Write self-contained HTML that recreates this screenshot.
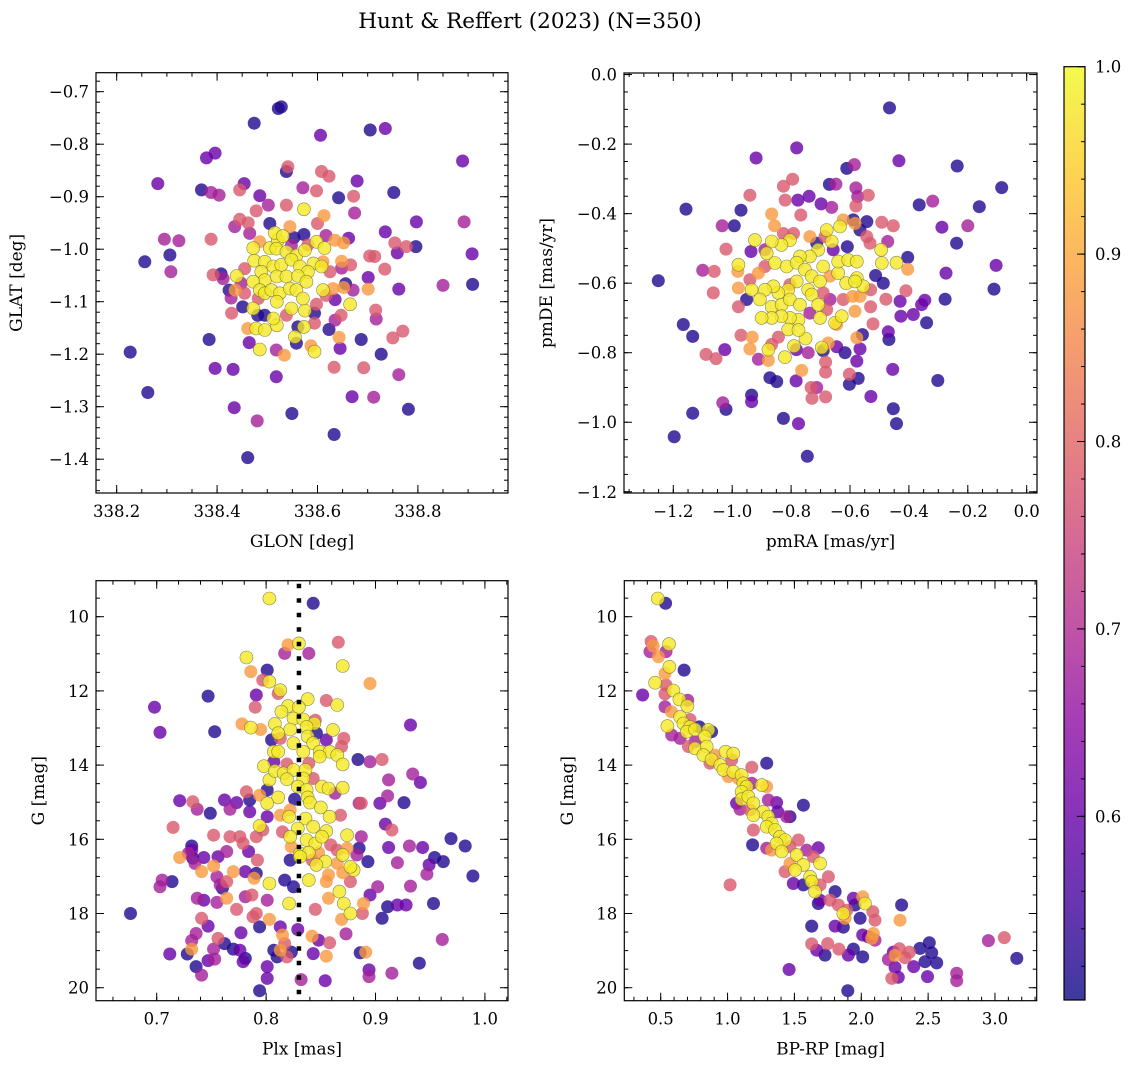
<!DOCTYPE html>
<html><head><meta charset="utf-8"><style>
html,body{margin:0;padding:0;background:#fff;}
svg{display:block;font-family:"DejaVu Serif","Liberation Serif",serif;}
</style></head><body>
<svg id="fig" width="1136" height="1067" viewBox="0 0 1136 1067" xmlns="http://www.w3.org/2000/svg">
<defs>
<linearGradient id="plasmaGrad" x1="0" y1="1" x2="0" y2="0">
<stop offset="0" stop-color="#0d0887"/><stop offset="0.1" stop-color="#41049d"/><stop offset="0.2" stop-color="#6a00a8"/><stop offset="0.3" stop-color="#8f0da4"/><stop offset="0.4" stop-color="#b12a90"/><stop offset="0.5" stop-color="#cc4778"/><stop offset="0.6" stop-color="#e16462"/><stop offset="0.7" stop-color="#f2844b"/><stop offset="0.8" stop-color="#fca636"/><stop offset="0.9" stop-color="#fcce25"/><stop offset="1" stop-color="#f0f921"/>
</linearGradient>
</defs>
<text x="530" y="28" text-anchor="middle" font-size="21.5">Hunt &amp; Reffert (2023) (N=350)</text>
</svg>
<script>
// ---------- Panel 1: GLON vs GLAT ----------
const glon = [338.522,338.528,338.474,338.606,338.705,338.735,338.379,338.396,338.889,338.282,
338.369,338.388,338.404,338.454,338.445,338.538,338.541,338.571,338.598,338.608,
338.623,338.679,338.642,338.672,338.674,338.752,338.485,338.502,338.538,338.573,
338.478,338.445,338.462,338.435,338.465,338.505,338.545,338.600,338.613,338.388,
338.295,338.324,338.306,338.308,338.256,338.227,338.262,338.797,338.892,338.735,
338.796,338.777,338.754,338.759,338.908,338.909,338.850,338.762,338.704,338.714,
338.734,338.701,338.701,338.716,338.717,338.770,338.750,338.727,338.687,338.692,
338.762,338.712,338.669,338.781,338.633,338.549,338.518,338.480,338.434,338.461,
338.432,338.396,338.384,338.464,338.485,338.518,338.534,338.558,338.594,338.587,
338.633,338.645,338.623,338.643,338.635,338.647,338.665,338.635,338.652,338.671,
338.656,338.648,338.666,338.648,338.662,338.635,338.652,338.617,338.598,338.614,
338.592,338.608,338.625,338.611,338.617,338.598,338.594,338.594,338.575,338.573,
338.555,338.561,338.548,338.538,338.519,338.512,338.495,338.481,338.478,338.461,
338.495,338.472,338.451,338.428,338.429,338.436,338.424,338.392,338.412,338.408,
338.439,338.455,338.448,338.474,338.472,338.485,338.505,338.521,338.515,338.531,
338.553,338.573,338.548,338.518,338.538,338.558,338.575,338.495,338.512,338.528,
338.548,338.565,338.581,338.488,338.495,338.519,338.538,338.561,338.578,338.472,
338.485,338.495,338.508,338.525,338.545,338.558,338.571,338.519,338.482,338.455,
338.611,338.631,338.581];
const glat = [-0.732,-0.729,-0.760,-0.783,-0.773,-0.770,-0.826,-0.817,-0.832,-0.875,
-0.887,-0.892,-0.897,-0.875,-0.887,-0.852,-0.843,-0.883,-0.889,-0.852,
-0.861,-0.870,-0.902,-0.899,-0.931,-0.892,-0.898,-0.916,-0.916,-0.924,
-0.927,-0.943,-0.950,-0.957,-0.970,-0.951,-0.957,-0.951,-0.936,-0.981,
-0.981,-0.984,-1.011,-1.043,-1.024,-1.196,-1.273,-0.948,-0.948,-0.967,
-0.995,-0.995,-0.988,-1.007,-1.009,-1.067,-1.069,-1.076,-1.013,-1.014,
-1.038,-1.054,-1.076,-1.116,-1.133,-1.156,-1.169,-1.200,-1.172,-1.226,
-1.239,-1.282,-1.281,-1.305,-1.353,-1.313,-1.243,-1.327,-1.302,-1.397,
-1.229,-1.227,-1.172,-1.178,-1.191,-1.192,-1.202,-1.179,-1.195,-1.184,
-1.225,-1.189,-1.153,-1.168,-1.135,-1.126,-1.105,-1.096,-1.073,-1.078,
-1.066,-1.036,-1.030,-1.023,-0.979,-0.983,-0.988,-0.974,-0.986,-0.998,
-1.027,-1.033,-1.043,-1.078,-1.088,-1.105,-1.141,-1.122,-1.117,-1.148,
-1.167,-1.148,-1.113,-1.126,-1.145,-1.132,-1.126,-1.126,-1.151,-1.151,
-1.154,-1.113,-1.110,-1.093,-1.122,-1.078,-1.078,-1.049,-1.056,-1.047,
-1.051,-1.037,-1.065,-1.022,-0.998,-0.986,-0.998,-0.983,-0.969,-0.975,
-0.978,-0.972,-0.993,-0.999,-1.005,-1.012,-1.002,-1.024,-1.033,-1.030,
-1.020,-1.033,-1.043,-1.043,-1.059,-1.052,-1.052,-1.051,-1.062,-1.062,
-1.078,-1.084,-1.078,-1.084,-1.075,-1.078,-1.094,-1.100,-1.094,-1.084,
-1.024,-1.075,-0.992];
const prob1 = [.52,.52,.52,.60,.52,.60,.60,.60,.60,.60,
.52,.68,.68,.60,.78,.52,.78,.68,.78,.78,
.78,.60,.52,.78,.68,.52,.60,.68,.78,.98,
.78,.78,.78,.68,.68,.52,.88,.78,.88,.78,
.68,.68,.52,.68,.52,.52,.52,.60,.68,.60,
.52,.78,.78,.60,.60,.52,.68,.60,.78,.78,
.78,.60,.88,.78,.68,.78,.78,.52,.52,.78,
.68,.68,.60,.52,.52,.52,.60,.68,.60,.52,
.60,.60,.52,.60,.98,.68,.88,.52,.98,.88,
.78,.60,.52,.88,.68,.78,.98,.60,.88,.68,
.52,.68,.78,.88,.60,.88,.88,.68,.98,.98,
.98,.98,.78,.98,.78,.78,.78,.52,.98,.98,
.98,.52,.98,.78,.98,.98,.52,.52,.98,.88,
.98,.98,.52,.68,.78,.88,.52,.78,.68,.52,
.98,.78,.68,.98,.98,.88,.98,.98,.98,.98,
.52,.52,.68,.98,.98,.98,.98,.98,.98,.98,
.98,.98,.98,.98,.98,.98,.98,.98,.98,.98,
.98,.98,.98,.98,.98,.98,.98,.98,.78,.78,
.88,.88,.78];

// ---------- Panel 2: pmRA vs pmDE ----------
const pmra = [-0.466,-0.781,-0.919,-0.434,-0.611,-0.585,-0.236,-0.085,-0.795,-0.826,
-0.670,-0.648,-0.580,-0.538,-0.574,-0.580,-0.940,-1.157,-0.970,-0.820,
-0.777,-0.739,-0.698,-0.662,-0.767,-0.866,-0.856,-1.034,-0.993,-1.021,
-0.936,-1.100,-1.061,-1.251,-1.064,-0.979,-1.166,-1.134,-1.089,-1.055,
-1.025,-1.134,-1.197,-1.021,-1.032,-0.934,-0.934,-0.872,-0.849,-0.826,
-0.775,-0.745,-0.783,-0.732,-0.729,-0.683,-0.713,-0.683,-0.683,-0.764,
-0.602,-0.602,-0.572,-0.529,-0.453,-0.442,-0.455,-0.302,-0.468,-0.470,
-0.385,-0.340,-0.277,-0.357,-0.346,-0.111,-0.104,-0.274,-0.238,-0.200,
-0.161,-0.288,-0.365,-0.319,-0.453,-0.492,-0.472,-0.404,-0.404,-0.442,
-0.492,-0.494,-0.513,-0.487,-0.410,-0.430,-0.427,-0.478,-0.530,-0.530,
-0.522,-0.558,-0.566,-0.577,-0.577,-0.617,-0.645,-0.691,-0.674,-0.696,
-0.751,-0.742,-0.790,-0.821,-0.877,-0.877,-0.911,-0.940,-0.932,-0.970,
-0.843,-0.866,-0.782,-0.645,-0.651,-0.628,-0.583,-0.566,-0.591,-0.613,
-0.640,-0.640,-0.606,-0.577,-0.577,-0.555,-0.583,-0.532,-0.543,-0.566,
-0.589,-0.543,-0.583,-0.623,-0.634,-0.662,-0.679,-0.708,-0.736,-0.770,
-0.804,-0.833,-0.866,-0.923,-0.883,-0.855,-0.815,-0.781,-0.753,-0.730,
-0.691,-0.668,-0.702,-0.742,-0.781,-0.810,-0.843,-0.860,-0.889,-0.934,
-0.906,-0.866,-0.832,-0.804,-0.770,-0.730,-0.708,-0.702,-0.775,-0.804,
-0.833,-0.866,-0.900,-0.810,-0.775,-0.979,-0.981,-0.979,-0.940,-0.911,
-0.889,-0.889,-0.826,-0.792,-0.736,-0.713,-0.685,-0.657,-0.609,-0.691,
-0.668,-0.623,-0.679,-0.736,-0.804,-0.951];
const pmde = [-0.096,-0.211,-0.240,-0.248,-0.270,-0.259,-0.263,-0.325,-0.301,-0.321,
-0.316,-0.315,-0.326,-0.347,-0.351,-0.378,-0.347,-0.387,-0.390,-0.361,
-0.361,-0.350,-0.372,-0.382,-0.404,-0.401,-0.435,-0.435,-0.435,-0.502,
-0.509,-0.563,-0.566,-0.593,-0.628,-0.668,-0.719,-0.753,-0.805,-0.817,
-0.791,-0.974,-1.042,-0.963,-0.944,-0.922,-0.941,-0.872,-0.883,-0.989,
-1.004,-1.098,-0.881,-0.900,-0.931,-0.927,-0.900,-0.856,-0.827,-0.851,
-0.891,-0.862,-0.874,-0.926,-0.961,-1.004,-0.848,-0.880,-0.762,-0.740,
-0.690,-0.714,-0.646,-0.662,-0.649,-0.617,-0.549,-0.571,-0.485,-0.435,
-0.380,-0.439,-0.375,-0.364,-0.435,-0.425,-0.480,-0.526,-0.560,-0.541,
-0.542,-0.504,-0.578,-0.600,-0.622,-0.652,-0.695,-0.646,-0.619,-0.668,
-0.717,-0.748,-0.789,-0.824,-0.757,-0.800,-0.783,-0.794,-0.772,-0.785,
-0.759,-0.800,-0.781,-0.813,-0.822,-0.791,-0.819,-0.789,-0.755,-0.750,
-0.755,-0.776,-0.791,-0.719,-0.714,-0.695,-0.681,-0.638,-0.638,-0.600,
-0.571,-0.538,-0.533,-0.538,-0.585,-0.609,-0.595,-0.485,-0.466,-0.447,
-0.418,-0.423,-0.428,-0.418,-0.437,-0.480,-0.447,-0.504,-0.523,-0.523,
-0.476,-0.490,-0.480,-0.476,-0.514,-0.542,-0.552,-0.541,-0.561,-0.580,
-0.552,-0.580,-0.595,-0.619,-0.595,-0.619,-0.628,-0.609,-0.619,-0.619,
-0.647,-0.668,-0.662,-0.647,-0.662,-0.633,-0.662,-0.700,-0.705,-0.700,
-0.695,-0.700,-0.700,-0.733,-0.735,-0.547,-0.566,-0.614,-0.590,-0.571,
-0.552,-0.504,-0.457,-0.457,-0.466,-0.485,-0.466,-0.504,-0.495,-0.628,
-0.647,-0.647,-0.676,-0.686,-0.604,-0.647];
const prob2 = [.52,.60,.60,.60,.52,.68,.52,.52,.78,.78,
.52,.68,.68,.78,.68,.78,.78,.52,.52,.78,
.60,.60,.60,.68,.78,.88,.88,.68,.52,.78,
.60,.68,.78,.52,.78,.78,.52,.52,.78,.78,
.60,.52,.52,.52,.68,.52,.60,.52,.52,.52,
.60,.52,.60,.78,.78,.78,.68,.78,.78,.88,
.52,.78,.52,.60,.52,.52,.60,.52,.52,.60,
.60,.52,.52,.60,.60,.52,.60,.60,.52,.68,
.52,.60,.52,.68,.78,.78,.68,.52,.88,.98,
.98,.98,.52,.52,.78,.60,.60,.78,.78,.78,
.78,.52,.60,.60,.88,.52,.60,.52,.88,.98,
.98,.68,.98,.98,.88,.98,.68,.88,.88,.78,
.78,.78,.60,.88,.98,.98,.88,.88,.88,.98,
.98,.98,.98,.98,.98,.98,.98,.78,.78,.52,
.52,.52,.88,.88,.98,.98,.98,.98,.98,.98,
.98,.98,.98,.98,.98,.98,.98,.98,.98,.98,
.98,.88,.98,.98,.98,.98,.98,.98,.98,.98,
.98,.98,.98,.98,.98,.98,.98,.98,.98,.98,
.98,.98,.98,.98,.98,.98,.88,.88,.78,.88,
.78,.68,.78,.78,.88,.52,.78,.60,.52,.78,
.68,.78,.78,.68,.78,.52];

// ---------- Panel 3: Plx vs G ----------
const plx = [0.803,0.843,0.820,0.830,0.817,0.839,0.866,0.870,0.782,0.786,
0.801,0.797,0.803,0.813,0.811,0.895,0.791,0.747,0.698,0.703,
0.753,0.790,0.855,0.865,0.838,0.820,0.814,0.830,0.825,0.834,
0.845,0.844,0.778,0.786,0.795,0.808,0.822,0.811,0.805,0.813,
0.846,0.837,0.838,0.861,0.855,0.871,0.869,0.932,0.825,0.843,
0.834,0.849,0.858,0.849,0.865,0.807,0.811,0.807,0.819,0.798,
0.839,0.870,0.884,0.895,0.906,0.934,0.941,0.912,0.803,0.808,
0.816,0.825,0.836,0.843,0.834,0.819,0.829,0.837,0.851,0.857,
0.870,0.863,0.838,0.801,0.782,0.794,0.785,0.811,0.801,0.826,
0.840,0.721,0.733,0.737,0.749,0.762,0.767,0.773,0.785,0.801,
0.813,0.822,0.821,0.836,0.850,0.858,0.868,0.885,0.904,0.926,
0.909,0.915,0.911,0.887,0.715,0.752,0.794,0.797,0.815,0.829,
0.843,0.855,0.837,0.845,0.851,0.859,0.874,0.887,0.822,0.823,
0.831,0.839,0.848,0.865,0.870,0.874,0.883,0.885,0.912,0.931,
0.943,0.969,0.982,0.954,0.962,0.949,0.947,0.989,0.920,0.893,
0.880,0.877,0.865,0.854,0.846,0.831,0.822,0.842,0.870,0.877,
0.867,0.857,0.855,0.839,0.825,0.817,0.803,0.789,0.791,0.781,
0.770,0.764,0.758,0.760,0.755,0.752,0.741,0.735,0.733,0.743,
0.729,0.721,0.732,0.732,0.756,0.764,0.767,0.776,0.779,0.784,
0.791,0.792,0.705,0.714,0.703,0.676,0.737,0.743,0.755,0.764,
0.773,0.781,0.787,0.801,0.821,0.845,0.871,0.857,0.877,0.869,
0.888,0.889,0.895,0.902,0.911,0.920,0.928,0.953,0.906,0.932,
0.741,0.747,0.736,0.732,0.732,0.756,0.762,0.770,0.776,0.777,
0.779,0.788,0.791,0.794,0.803,0.813,0.815,0.817,0.813,0.807,
0.810,0.819,0.823,0.829,0.842,0.848,0.858,0.843,0.855,0.873,
0.886,0.891,0.894,0.894,0.915,0.940,0.961,0.801,0.801,0.794,
0.832,0.854,0.712,0.728,0.736,0.741,0.747,0.753,0.752,0.781];
const gmag3 = [9.51,9.64,10.76,10.72,10.99,10.99,10.69,11.33,11.10,11.48,
11.44,11.71,11.75,11.98,12.07,11.80,12.11,12.14,12.44,13.12,
13.10,12.44,12.26,12.38,12.22,12.41,12.56,12.44,12.74,12.77,
12.79,12.88,12.89,12.99,13.04,12.89,13.04,13.14,13.32,13.28,
13.14,12.97,13.23,13.05,13.32,13.28,13.50,12.92,13.41,13.41,
13.64,13.64,13.64,13.77,13.73,13.64,13.64,13.91,13.97,14.03,
13.95,13.98,13.85,13.91,13.85,14.24,14.47,14.40,14.40,14.16,
14.22,14.13,14.13,14.36,14.36,14.38,14.58,14.67,14.58,14.63,
14.61,14.76,14.87,14.67,14.72,14.81,14.94,14.87,15.03,14.92,
15.01,14.96,14.99,15.19,15.30,14.94,15.19,15.01,15.26,15.39,
15.35,15.21,15.39,15.44,15.14,15.39,15.35,15.03,15.03,15.01,
15.59,15.75,14.83,15.03,15.68,15.89,15.64,15.75,15.80,15.71,
15.66,15.78,16.02,16.11,15.93,16.15,15.89,15.93,15.93,16.20,
16.38,16.36,16.36,16.29,16.42,16.24,16.42,16.24,16.22,16.18,
16.22,15.98,16.18,16.49,16.60,16.69,16.94,16.99,16.63,16.60,
16.83,16.74,16.65,16.60,16.69,16.47,16.56,16.56,16.90,17.14,
17.41,16.96,17.14,17.10,17.28,17.10,17.19,17.05,16.92,16.87,
16.87,17.14,17.23,17.32,17.01,16.72,16.87,16.65,16.51,16.49,
16.38,16.49,16.18,16.29,16.47,16.33,15.93,15.93,16.11,16.33,
15.93,16.56,17.10,17.14,17.28,18.00,17.59,17.64,17.70,17.59,
17.89,17.55,17.50,17.64,17.73,17.89,17.73,17.59,18.00,18.16,
18.00,17.73,17.50,17.28,17.82,17.77,17.77,17.73,18.13,17.26,
18.13,18.34,18.54,18.73,18.96,18.67,18.81,18.96,18.99,18.52,
19.30,18.09,18.00,18.36,18.16,18.36,18.58,18.81,18.99,18.99,
19.17,19.17,19.04,18.43,18.61,18.72,18.79,19.08,19.15,18.55,
19.06,19.04,19.52,19.70,19.61,19.34,18.70,19.43,19.75,20.08,
19.78,19.81,19.09,19.09,19.43,19.66,19.27,19.23,18.96,19.21];
const prob3 = [.98,.52,.88,.98,.68,.68,.78,.98,.98,.88,
.52,.78,.98,.98,.78,.88,.60,.52,.60,.60,
.52,.78,.78,.98,.98,.98,.98,.98,.98,.98,
.78,.98,.88,.98,.88,.98,.98,.98,.52,.78,
.52,.98,.98,.98,.60,.78,.78,.60,.98,.98,
.98,.98,.98,.98,.98,.98,.98,.60,.78,.98,
.78,.98,.52,.68,.78,.68,.60,.68,.98,.98,
.98,.98,.98,.78,.98,.98,.98,.98,.98,.98,
.98,.68,.98,.52,.78,.88,.52,.98,.98,.52,
.98,.60,.78,.68,.52,.60,.68,.60,.60,.60,
.88,.88,.98,.98,.98,.98,.78,.68,.60,.52,
.60,.78,.68,.78,.78,.78,.98,.78,.78,.98,
.98,.98,.98,.98,.98,.78,.98,.68,.98,.88,
.98,.98,.88,.78,.98,.88,.68,.52,.60,.68,
.60,.52,.52,.52,.52,.60,.68,.52,.68,.52,
.98,.98,.88,.98,.98,.98,.52,.78,.88,.78,
.98,.88,.88,.98,.52,.52,.98,.88,.52,.60,
.88,.78,.68,.52,.68,.88,.88,.68,.52,.60,
.68,.88,.52,.60,.60,.68,.78,.78,.78,.60,
.78,.78,.68,.52,.68,.52,.68,.60,.68,.88,
.78,.68,.78,.68,.98,.78,.98,.88,.98,.88,
.78,.88,.60,.68,.52,.60,.60,.52,.52,.68,
.78,.60,.68,.68,.88,.78,.52,.52,.60,.60,
.60,.78,.78,.52,.88,.60,.88,.78,.88,.52,
.52,.78,.52,.60,.88,.60,.78,.60,.88,.68,
.52,.88,.60,.68,.68,.52,.68,.60,.60,.52,
.68,.60,.60,.52,.52,.68,.60,.68,.68,.52];

// ---------- Panel 4: BP-RP vs G ----------
const bprp = [0.478,0.537,0.428,0.445,0.483,0.540,0.562,0.420,0.675,0.565,
0.532,0.458,0.540,0.532,0.595,0.365,0.702,0.640,0.700,0.532,
0.580,0.645,0.719,0.550,0.670,0.719,0.695,0.757,0.582,0.645,
0.789,0.881,0.856,0.831,0.757,0.707,0.757,0.844,0.819,0.906,
0.881,0.869,0.946,0.969,0.985,1.043,1.031,1.006,1.043,1.081,
1.181,1.293,1.105,1.118,1.143,1.105,1.105,1.155,1.193,1.168,
1.068,1.093,1.181,1.255,1.292,1.305,1.367,1.375,1.467,1.567,
1.442,1.268,1.305,1.330,1.293,1.193,1.193,1.355,1.392,1.430,
1.367,1.405,1.330,1.293,1.187,1.467,1.530,1.517,1.592,1.642,
1.679,1.692,1.567,1.505,1.467,1.430,1.492,1.567,1.617,1.629,
1.654,1.692,1.754,1.804,1.692,1.679,1.766,1.829,1.891,1.866,
1.879,1.941,1.953,2.011,2.028,1.991,2.086,2.103,1.804,1.866,
1.629,2.011,2.053,2.078,2.103,2.090,1.629,1.667,1.729,1.749,
1.833,1.941,1.903,2.011,1.460,1.899,2.302,2.290,2.203,2.240,
2.285,2.252,2.360,2.327,2.252,2.277,2.228,2.392,2.439,2.509,
2.527,2.477,2.564,2.495,2.714,2.714,2.951,3.070,3.163,1.019];
const gmag4 = [9.51,9.64,10.67,10.79,11.08,10.94,10.74,10.94,11.44,11.35,
11.53,11.78,11.84,12.08,11.99,12.11,12.25,12.23,12.41,12.43,
12.56,12.70,12.77,12.95,12.88,12.97,13.10,13.04,13.19,13.28,
12.97,13.10,13.05,13.23,13.37,13.50,13.55,13.50,13.73,13.73,
13.85,13.95,14.00,14.13,13.64,13.69,13.86,14.31,14.18,14.36,
14.06,13.95,14.27,14.49,14.58,14.72,14.92,14.85,15.03,15.21,
15.03,15.19,14.49,14.54,14.58,14.94,15.01,15.26,15.39,15.08,
15.39,15.26,15.39,15.57,15.66,15.35,15.75,15.75,15.93,16.02,
16.11,16.33,16.29,16.24,16.15,16.20,16.02,16.42,16.29,16.47,
16.23,16.65,16.69,16.83,16.65,16.87,17.19,17.23,17.01,17.14,
17.41,17.23,17.01,17.41,17.64,17.73,17.64,17.77,17.91,18.00,
18.13,17.59,17.77,17.55,17.73,18.13,17.95,18.18,18.34,18.37,
18.34,18.58,18.63,18.67,18.72,18.54,18.82,18.99,19.12,18.81,
18.96,18.96,19.12,19.17,19.51,20.08,17.77,18.18,19.24,19.04,
18.95,19.13,19.04,19.19,19.45,19.72,19.75,19.43,18.94,18.79,
19.06,19.30,19.33,19.70,19.61,19.81,18.73,18.65,19.21,17.23];
const prob4 = [.98,.52,.78,.88,.88,.68,.98,.68,.52,.98,
.88,.98,.78,.78,.98,.60,.68,.98,.98,.68,
.88,.98,.78,.98,.98,.98,.98,.98,.68,.68,
.52,.52,.98,.98,.68,.78,.98,.98,.98,.88,
.98,.78,.98,.98,.98,.98,.78,.88,.98,.88,
.78,.52,.98,.98,.98,.98,.98,.98,.98,.78,
.60,.68,.68,.98,.88,.68,.60,.60,.52,.52,
.68,.98,.98,.98,.98,.98,.78,.98,.98,.98,
.98,.98,.88,.68,.52,.78,.78,.98,.68,.78,
.60,.98,.98,.98,.88,.78,.60,.52,.98,.98,
.98,.78,.78,.52,.60,.52,.78,.78,.78,.98,
.88,.60,.52,.88,.98,.52,.78,.78,.60,.52,
.52,.60,.60,.88,.68,.88,.78,.60,.52,.78,
.78,.52,.60,.52,.60,.52,.52,.88,.68,.60,
.78,.88,.78,.78,.60,.60,.78,.60,.52,.52,
.52,.52,.52,.60,.68,.68,.68,.78,.52,.78];

// ---------- Axis ticks ----------
const xTicks1 = [338.2,338.4,338.6,338.8];
const yTicks1 = [-0.7,-0.8,-0.9,-1.0,-1.1,-1.2,-1.3,-1.4];
const xTicks2 = [-1.2,-1.0,-0.8,-0.6,-0.4,-0.2,0.0];
const yTicks2 = [0.0,-0.2,-0.4,-0.6,-0.8,-1.0,-1.2];
const xTicks3 = [0.7,0.8,0.9,1.0];
const yTicksG = [10,12,14,16,18,20];
const xTicks4 = [0.5,1.0,1.5,2.0,2.5,3.0];
const cbTicks = [0.6,0.7,0.8,0.9,1.0];
const plxRef = 0.830;
const vmin = 0.502, vmax = 1.0;

const NS = "http://www.w3.org/2000/svg";
const svg = document.getElementById('fig');
const TF = 16.5, LF = 17;
const stops = [[0,13,8,135],[0.1,65,4,157],[0.2,106,0,168],[0.3,143,13,164],[0.4,177,42,144],[0.5,204,71,120],[0.6,225,100,98],[0.7,242,132,75],[0.8,252,166,54],[0.9,252,206,37],[1,240,249,33]];
function plasma(t){
  t=Math.max(0,Math.min(1,t));
  for(let i=0;i<stops.length-1;i++){
    const a=stops[i],b=stops[i+1];
    if(t<=b[0]){const f=(t-a[0])/(b[0]-a[0]);
      return 'rgb('+[1,2,3].map(k=>Math.round(a[k]+f*(b[k]-a[k]))).join(',')+')';}
  }
  return 'rgb(240,249,33)';
}
function mk(tag, attrs, parent){
  const e=document.createElementNS(NS,tag);
  for(const k in attrs) e.setAttribute(k,attrs[k]);
  (parent||svg).appendChild(e); return e;
}
function fmt(v,d){ const s=Math.abs(v).toFixed(d); return (v<-1e-9?'\u2212':'')+s; }

function panel(cfg, xs, ys, ps){
  const g=mk('g',{});
  
  
  const X=v=>cfg.bx0+(v-cfg.xmin)/(cfg.xmax-cfg.xmin)*(cfg.bx1-cfg.bx0);
  const Y=v=>cfg.inv ? cfg.by0+(v-cfg.ymin)/(cfg.ymax-cfg.ymin)*(cfg.by1-cfg.by0)
                     : cfg.by1-(v-cfg.ymin)/(cfg.ymax-cfg.ymin)*(cfg.by1-cfg.by0);
  const idx=ps.map((p,i)=>i).sort((a,b)=>ps[a]-ps[b]);
  const pts=mk('g',{},g);
  
  
  idx.forEach(i=>{
    const t=(ps[i]-vmin)/(vmax-vmin);
    const c=mk('circle',{cx:X(xs[i]).toFixed(1),cy:Y(ys[i]).toFixed(1),r:6.5,fill:plasma(t),'fill-opacity':0.8},pts);
    if(ps[i]>0.9){c.setAttribute('stroke','#6b6b40');c.setAttribute('stroke-width','0.6');c.setAttribute('stroke-opacity','0.8');}
    
    
  });
  if(cfg.vline!==undefined){
    const l=mk('line',{x1:X(cfg.vline),x2:X(cfg.vline),y1:cfg.by0+3,y2:cfg.by1,stroke:'#000','stroke-width':4.5,'stroke-dasharray':'4.5 10'},g);
    
    
  }
  const tk=mk('g',{stroke:'#000','stroke-width':1},g);
  const inRange=(v,a,b)=>v>=Math.min(a,b)-1e-9&&v<=Math.max(a,b)+1e-9;
  const lo=Math.min(cfg.xmin,cfg.xmax), hi=Math.max(cfg.xmin,cfg.xmax);
  for(let v=Math.ceil(lo/cfg.xminor-1e-6)*cfg.xminor; v<=hi; v+=cfg.xminor){
    const px=X(v);
    mk('line',{x1:px,x2:px,y1:cfg.by1,y2:cfg.by1-4},tk); mk('line',{x1:px,x2:px,y1:cfg.by0,y2:cfg.by0+4},tk);
  }
  const ylo=Math.min(cfg.ymin,cfg.ymax), yhi=Math.max(cfg.ymin,cfg.ymax);
  for(let v=Math.ceil(ylo/cfg.yminor-1e-6)*cfg.yminor; v<=yhi; v+=cfg.yminor){
    const py=Y(v);
    mk('line',{x1:cfg.bx0,x2:cfg.bx0+4,y1:py,y2:py},tk); mk('line',{x1:cfg.bx1,x2:cfg.bx1-4,y1:py,y2:py},tk);
  }
  cfg.xt.forEach(v=>{
    const px=X(v);
    mk('line',{x1:px,x2:px,y1:cfg.by1,y2:cfg.by1-8},tk); mk('line',{x1:px,x2:px,y1:cfg.by0,y2:cfg.by0+8},tk);
    const t=mk('text',{x:px,y:cfg.by1+24,'text-anchor':'middle','font-size':TF,fill:'#000'},g);
    t.textContent=fmt(v,cfg.xd);
    
    
  });
  cfg.yt.forEach(v=>{
    if(!inRange(v,cfg.ymin,cfg.ymax)) return;
    const py=Y(v);
    mk('line',{x1:cfg.bx0,x2:cfg.bx0+8,y1:py,y2:py},tk); mk('line',{x1:cfg.bx1,x2:cfg.bx1-8,y1:py,y2:py},tk);
    const t=mk('text',{x:cfg.bx0-7,y:py+6,'text-anchor':'end','font-size':TF,fill:'#000'},g);
    t.textContent=fmt(v,cfg.yd);
    
    
  });
  const fr=mk('rect',{x:cfg.bx0,y:cfg.by0,width:cfg.bx1-cfg.bx0,height:cfg.by1-cfg.by0,fill:'none',stroke:'#000','stroke-width':1.2},g);
  
  
  const xl=mk('text',{x:(cfg.bx0+cfg.bx1)/2,y:cfg.by1+54,'text-anchor':'middle','font-size':LF,fill:'#000'},g);
  xl.textContent=cfg.xlabel;
  
  
  const cy=(cfg.by0+cfg.by1)/2;
  const yl=mk('text',{x:cfg.ylx,y:cy,'text-anchor':'middle','font-size':LF,fill:'#000',transform:'rotate(-90 '+cfg.ylx+' '+cy+')'},g);
  yl.textContent=cfg.ylabel;
  
  
}

panel({name:'galactic-position-panel',bx0:96,bx1:508,by0:72.7,by1:493,xmin:338.1588,xmax:338.9795,ymin:-1.4644,ymax:-0.6638,inv:false,
  xt:xTicks1,yt:yTicks1,xminor:0.05,yminor:0.02,xd:1,yd:1,xlabel:'GLON [deg]',ylabel:'GLAT [deg]',ylx:22},glon,glat,prob1);
panel({name:'proper-motion-panel',bx0:624,bx1:1037,by0:73,by1:493,xmin:-1.3674,xmax:0.035,ymin:-1.2035,ymax:0.0045,inv:false,
  xt:xTicks2,yt:yTicks2,xminor:0.05,yminor:0.05,xd:1,yd:1,xlabel:'pmRA [mas/yr]',ylabel:'pmDE [mas/yr]',ylx:552},pmra,pmde,prob2);
panel({name:'parallax-magnitude-panel',bx0:96,bx1:508,by0:580.7,by1:1000.7,xmin:0.6445,xmax:1.0211,ymin:9.03,ymax:20.35,inv:true,vline:plxRef,
  xt:xTicks3,yt:yTicksG,xminor:0.02,yminor:0.5,xd:1,yd:0,xlabel:'Plx [mas]',ylabel:'G [mag]',ylx:44},plx,gmag3,prob3);
panel({name:'color-magnitude-panel',bx0:624.3,bx1:1036.7,by0:580.7,by1:1000.7,xmin:0.2278,xmax:3.312,ymin:9.03,ymax:20.35,inv:true,
  xt:xTicks4,yt:yTicksG,xminor:0.1,yminor:0.5,xd:1,yd:0,xlabel:'BP-RP [mag]',ylabel:'G [mag]',ylx:573},bprp,gmag4,prob4);

// ---------- Colorbar ----------
(function(){
  const x0=1064,x1=1085,y0=66.7,y1=1000;
  const g=mk('g',{});
  
  
  mk('rect',{x:x0,y:y0,width:x1-x0,height:y1-y0,fill:'url(#plasmaGrad)','fill-opacity':0.8},g);
  const Y=v=>y1-(v-vmin)/(vmax-vmin)*(y1-y0);
  for(let v=0.52; v<vmax; v+=0.02){ const py=Y(v); mk('line',{x1:x1-4,x2:x1,y1:py,y2:py,stroke:'#000','stroke-width':1},g); }
  cbTicks.forEach(v=>{
    const py=Y(v);
    mk('line',{x1:x1-8,x2:x1,y1:py,y2:py,stroke:'#000','stroke-width':1},g);
    const t=mk('text',{x:x1+10,y:py+6,'font-size':TF,fill:'#000'},g);
    t.textContent=v.toFixed(1);
    
    
  });
  mk('rect',{x:x0,y:y0,width:x1-x0,height:y1-y0,fill:'none',stroke:'#000','stroke-width':1.2},g);
})();
</script>
</body></html>
